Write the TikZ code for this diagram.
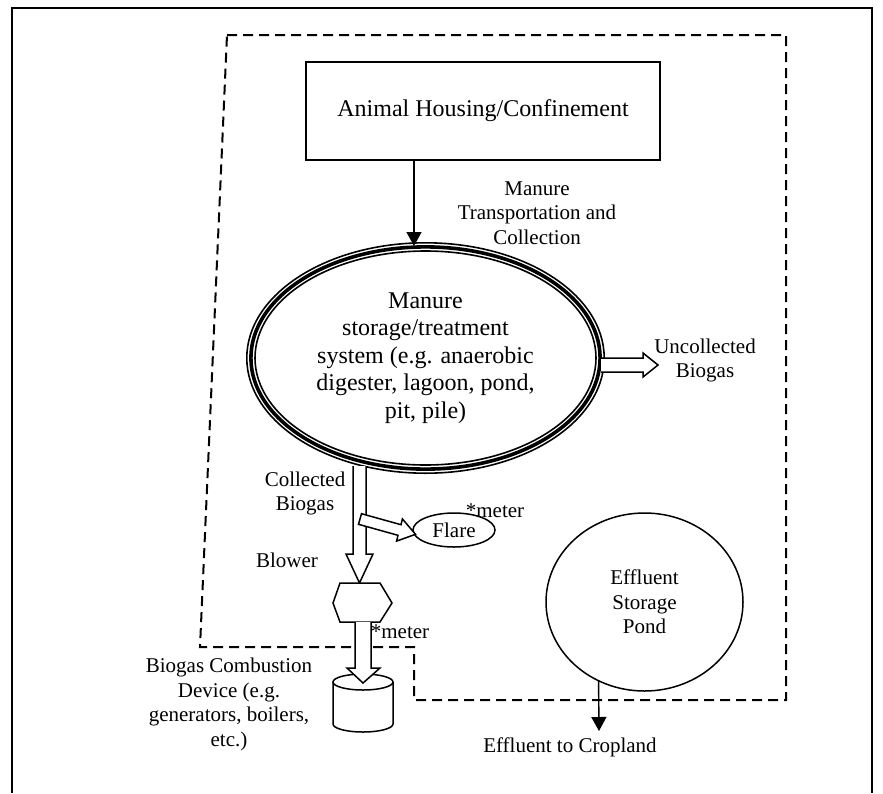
\documentclass[tikz,border=0pt]{standalone}
\usepackage{fontspec}
\setmainfont{Liberation Serif}
\usetikzlibrary{shapes.geometric,arrows.meta}
\newcommand\lblfont{\fontsize{21}{24.5}\selectfont}
\newcommand\bigfont{\fontsize{24}{27.5}\selectfont}
\begin{document}
\begin{tikzpicture}[x=1pt,y=-1pt,
  lbl/.style={align=center,font=\lblfont,inner sep=0pt},
  hollow/.style={draw,fill=white,line width=1.5pt,line join=miter},
  solidarrow/.style={line width=1.4pt,-{Triangle[length=14pt,width=15pt]}},
  fence/.style={line width=2pt,dash pattern=on 10pt off 6pt},
  ring/.style={line width=1.6pt}]
\useasboundingbox (0,0) rectangle (883,793);
% outer frame
\draw[line width=2pt] (12,793) -- (12,8) -- (872,8) -- (872,793);
% dashed boundary
\draw[fence] (227,35) -- (786,35) -- (786,700) -- (414,700) -- (414,647) -- (200,647) -- cycle;
% animal housing
\node[draw,line width=1.6pt,minimum width=354pt,minimum height=98pt,font=\bigfont] (house) at (483,111) {Animal Housing/Confinement};
% storage ellipse (triple line)
\coordinate (sc) at (425.5,358);
\draw[ring] (sc) ellipse [x radius=178.7, y radius=115.2];
\draw[line width=3.6pt] (sc) ellipse [x radius=174.6, y radius=111.1];
\draw[ring] (sc) ellipse [x radius=170.5, y radius=107];
\node[ellipse,minimum width=359pt,minimum height=232pt,align=center,font=\bigfont,inner sep=0pt] (store) at (sc)
  {Manure\\storage/treatment\\system (e.g. anaerobic\\digester, lagoon, pond,\\pit, pile)};
% manure transport arrow
\coordinate (stop) at (414,246);
\draw[solidarrow] (house.south -| stop) -- (stop);
\node[lbl] (trans) at (537,213) {Manure\\Transportation and\\Collection};
% uncollected biogas
\draw[hollow] (601,358) -- (643,358) -- (643,353) -- (658,365) -- (643,377) -- (643,372) -- (601,372);
\node[lbl] (uncol) at (705,360.5) {Uncollected\\Biogas};
% flare
\node[ellipse,draw,line width=1.5pt,minimum width=82pt,minimum height=34pt,inner sep=0pt,font=\lblfont] (flare) at (454,530) {Flare};
% collected biogas vertical arrow
\draw[hollow] (353,466) -- (353,554) -- (346,554) -- (359.5,583) -- (373,554) -- (366,554) -- (366,466);
% branch to flare
\draw[hollow] (361.5,513.7) -- (401.0,524.7) -- (402.4,518.9) -- (415.5,534.3) -- (396.6,541.1) -- (398.0,535.3) -- (358.5,524.3) -- cycle;
\node[lbl] (meter1) at (495,511) {*meter};
\node[lbl] (colb) at (305,493.5) {Collected\\Biogas};
\node[lbl] (blower) at (287,560) {Blower};
% blower hexagon
\draw[line width=1.5pt,fill=white] (340,583) -- (380,583) -- (392,603) -- (380,622) -- (340,622) -- (333,603) -- cycle;
\coordinate (hexc) at (362.5,603);
% combustion device cylinder
\coordinate (cyl) at (363,682);
\draw[line width=1.5pt,fill=white] (333,682) -- (333,724) arc[start angle=180,end angle=0,x radius=30,y radius=8] -- (393,682);
\draw[line width=1.5pt,fill=white] (cyl) ellipse [x radius=30, y radius=8];
% arrow blower -> device
\draw[hollow] (355,622) -- (355,668) -- (347,668) -- (363,683) -- (380,668) -- (371,668) -- (371,622);
\node[lbl] (meter2) at (400,632) {*meter};
\node[lbl] (dev) at (229,704.5) {Biogas Combustion\\Device (e.g.\\generators, boilers,\\etc.)};
% effluent pond
\node[ellipse,draw,line width=1.5pt,minimum width=197pt,minimum height=178pt,align=center,font=\lblfont,inner sep=0pt] (pond) at (644.5,602) {Effluent\\Storage\\Pond};
\coordinate (crop) at (599,731);
\draw[solidarrow] (pond.240 |- 0,681) -- (crop);
\node[lbl] (croplbl) at (570,747) {Effluent to Cropland};
\end{tikzpicture}
\end{document}
